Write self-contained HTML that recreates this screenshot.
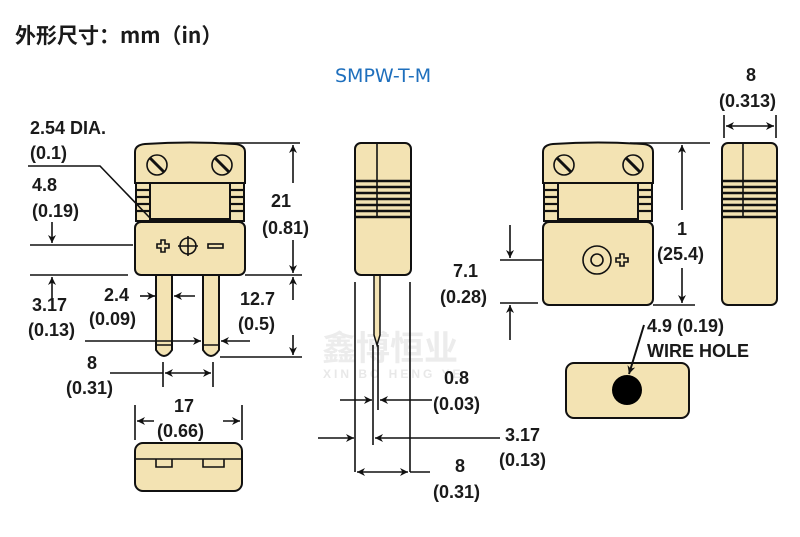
<!DOCTYPE html>
<html><head><meta charset="utf-8"><style>
html,body{margin:0;padding:0;background:#fff;}
svg{display:block;}
text{font-family:"Liberation Sans","Noto Sans CJK SC",sans-serif;font-weight:bold;font-size:18px;fill:#1a1a1a;}
</style></head><body>
<svg width="800" height="537" viewBox="0 0 800 537" xmlns="http://www.w3.org/2000/svg">
<defs>
<marker id="a" viewBox="0 0 10 10" refX="10" refY="5" markerWidth="13" markerHeight="8" orient="auto-start-reverse" markerUnits="userSpaceOnUse"><path d="M0,0 L10,5 L0,10 L3,5 z" fill="#111"/></marker>
</defs>
<text x="15" y="43" style="font-size:21px;font-weight:bold;font-family:'Noto Sans CJK SC',sans-serif">外形尺寸：mm（in）</text>
<text x="335" y="82" style="font-size:19px;font-weight:normal;fill:#1e6fbd;font-family:'DejaVu Sans',sans-serif">SMPW-T-M</text>

<!-- watermark -->
<text x="322" y="360" style="font-size:34px;fill:#ececec;font-family:'Noto Sans CJK SC',sans-serif">鑫博恒业</text>
<text x="323" y="378" style="font-size:12px;fill:#e8e8e8;letter-spacing:3px">XIN BO HENG YE</text>

<g stroke="#111" stroke-width="2" fill="#f3e3b3">
<path d="M156,275 V350 Q164,362 172,350 V275 Z"/>
<path d="M203,275 V350 Q211,362 219,350 V275 Z"/>
<line x1="157" y1="345" x2="171" y2="345" stroke-width="1.5"/>
<line x1="204" y1="345" x2="218" y2="345" stroke-width="1.5"/>
<path d="M135,183 V152 Q135,145 145,144 Q190,141 235,144 Q245,145 245,152 V183 Z"/>
<rect x="136" y="183" width="108" height="38"/>
<rect x="150" y="183" width="80" height="36"/>
<rect x="135" y="222" width="110" height="53" rx="6"/>
</g>
<g stroke="#111" stroke-width="2.2" fill="none">
<line x1="137" y1="190" x2="149" y2="190"/><line x1="137" y1="197" x2="149" y2="197"/><line x1="137" y1="204" x2="149" y2="204"/><line x1="137" y1="211" x2="149" y2="211"/>
<line x1="231" y1="190" x2="243" y2="190"/><line x1="231" y1="197" x2="243" y2="197"/><line x1="231" y1="204" x2="243" y2="204"/><line x1="231" y1="211" x2="243" y2="211"/>
</g>
<g stroke="#111" stroke-width="1.6" fill="none">
<circle cx="157" cy="165" r="10" fill="#f3e3b3"/><line x1="150" y1="158" x2="164" y2="172" stroke-width="3"/>
<circle cx="222" cy="165" r="10" fill="#f3e3b3"/><line x1="215" y1="158" x2="229" y2="172" stroke-width="3"/>
<circle cx="188" cy="246" r="8"/><line x1="178" y1="246" x2="198" y2="246"/><line x1="188" y1="236" x2="188" y2="256"/>
<path d="M157,244 h4 v-4 h4 v4 h4 v4 h-4 v4 h-4 v-4 h-4 z"/>
<rect x="208" y="244" width="15" height="4"/>
</g>

<g stroke="#111" stroke-width="1.6" fill="none">
<line x1="220" y1="143" x2="300" y2="143"/><line x1="245" y1="275" x2="302" y2="275"/><line x1="220" y1="357" x2="302" y2="357"/>
<line x1="293" y1="183" x2="293" y2="145" marker-end="url(#a)"/><line x1="293" y1="240" x2="293" y2="273" marker-end="url(#a)"/>
<line x1="293" y1="300" x2="293" y2="277" marker-end="url(#a)"/><line x1="293" y1="335" x2="293" y2="355" marker-end="url(#a)"/>
<line x1="30" y1="245" x2="133" y2="245"/><line x1="30" y1="275" x2="128" y2="275"/>
<line x1="52" y1="222" x2="52" y2="243" marker-end="url(#a)"/><line x1="52" y1="298" x2="52" y2="277" marker-end="url(#a)"/>
<polyline points="28,166 100,166 150,218"/>
<line x1="140" y1="296" x2="155" y2="296" marker-end="url(#a)"/><line x1="195" y1="296" x2="174" y2="296" marker-end="url(#a)"/>
<line x1="85" y1="341" x2="201" y2="341" marker-end="url(#a)"/><line x1="250" y1="341" x2="221" y2="341" marker-end="url(#a)"/>
<line x1="163" y1="362" x2="163" y2="387"/><line x1="213" y1="362" x2="213" y2="387"/>
<line x1="110" y1="373" x2="163" y2="373"/><line x1="165" y1="373" x2="211" y2="373" marker-start="url(#a)" marker-end="url(#a)"/>
<line x1="135" y1="405" x2="135" y2="440"/><line x1="242" y1="405" x2="242" y2="440"/>
<line x1="154" y1="421" x2="137" y2="421" marker-end="url(#a)"/><line x1="223" y1="421" x2="240" y2="421" marker-end="url(#a)"/>
</g>
<text x="30" y="134">2.54 DIA.</text><text x="30" y="159">(0.1)</text>
<text x="32" y="191">4.8</text><text x="32" y="217">(0.19)</text>
<text x="271" y="207">21</text><text x="262" y="234">(0.81)</text>
<text x="104" y="301">2.4</text><text x="89" y="325">(0.09)</text>
<text x="32" y="311">3.17</text><text x="28" y="336">(0.13)</text>
<text x="240" y="305">12.7</text><text x="238" y="330">(0.5)</text>
<text x="87" y="369">8</text><text x="66" y="394">(0.31)</text>
<text x="174" y="412">17</text><text x="157" y="437">(0.66)</text>

<g stroke="#111" stroke-width="2" fill="#f3e3b3">
<rect x="135" y="443" width="107" height="48" rx="8"/>
</g>
<g stroke="#111" stroke-width="1.6" fill="none">
<line x1="136" y1="459" x2="241" y2="459"/>
<polyline points="156,459 156,467 172,467 172,459"/><polyline points="203,459 203,467 224,467 224,459"/>
</g>

<g stroke="#111" stroke-width="2" fill="#f3e3b3">
<path d="M374,275 V335 L377,345 L380,335 V275 Z" stroke-width="1.5"/>
<rect x="355" y="143" width="56" height="132" rx="6"/>
<rect x="722" y="143" width="55" height="162" rx="6"/>
</g>
<g stroke="#111" stroke-width="1.6" fill="none">
<line x1="377" y1="143" x2="377" y2="218"/>
<line x1="743" y1="143" x2="743" y2="218"/>
</g>
<g stroke="#111" stroke-width="2.4" fill="none">
<line x1="355" y1="181" x2="411" y2="181"/><line x1="355" y1="187" x2="411" y2="187"/><line x1="355" y1="193" x2="411" y2="193"/><line x1="355" y1="199" x2="411" y2="199"/><line x1="355" y1="205" x2="411" y2="205"/><line x1="355" y1="211" x2="411" y2="211"/><line x1="355" y1="217" x2="411" y2="217"/>
<line x1="722" y1="181" x2="777" y2="181"/><line x1="722" y1="187" x2="777" y2="187"/><line x1="722" y1="193" x2="777" y2="193"/><line x1="722" y1="199" x2="777" y2="199"/><line x1="722" y1="205" x2="777" y2="205"/><line x1="722" y1="211" x2="777" y2="211"/><line x1="722" y1="217" x2="777" y2="217"/>
</g>
<g stroke="#111" stroke-width="1.6" fill="none">
<line x1="355" y1="282" x2="355" y2="472"/><line x1="410" y1="282" x2="410" y2="472"/>
<line x1="373" y1="345" x2="373" y2="445"/><line x1="378" y1="345" x2="378" y2="410"/>
<line x1="340" y1="400" x2="372" y2="400" marker-end="url(#a)"/><line x1="432" y1="400" x2="380" y2="400" marker-end="url(#a)"/>
<line x1="318" y1="438" x2="354" y2="438" marker-end="url(#a)"/><line x1="500" y1="438" x2="375" y2="438" marker-end="url(#a)"/>
<line x1="357" y1="472" x2="408" y2="472" marker-start="url(#a)" marker-end="url(#a)"/><line x1="410" y1="472" x2="430" y2="472"/>
</g>
<text x="444" y="384">0.8</text><text x="433" y="410">(0.03)</text>
<text x="505" y="441">3.17</text><text x="499" y="466">(0.13)</text>
<text x="455" y="472">8</text><text x="433" y="498">(0.31)</text>

<g stroke="#111" stroke-width="2" fill="#f3e3b3">
<path d="M543,183 V152 Q543,145 553,144 Q598,141 643,144 Q653,145 653,152 V183 Z"/>
<rect x="544" y="183" width="108" height="38"/>
<rect x="558" y="183" width="80" height="36"/>
<rect x="543" y="222" width="110" height="83" rx="6"/>
</g>
<g stroke="#111" stroke-width="2.2" fill="none">
<line x1="545" y1="190" x2="557" y2="190"/><line x1="545" y1="197" x2="557" y2="197"/><line x1="545" y1="204" x2="557" y2="204"/><line x1="545" y1="211" x2="557" y2="211"/>
<line x1="639" y1="190" x2="651" y2="190"/><line x1="639" y1="197" x2="651" y2="197"/><line x1="639" y1="204" x2="651" y2="204"/><line x1="639" y1="211" x2="651" y2="211"/>
</g>
<rect x="566" y="363" width="123" height="55" rx="8" fill="#f3e3b3" stroke="#111" stroke-width="2"/>
<circle cx="627" cy="390" r="15" fill="#000"/>
<g stroke="#111" stroke-width="1.6" fill="none">
<circle cx="564" cy="165" r="10" fill="#f3e3b3"/><line x1="557" y1="158" x2="571" y2="172" stroke-width="3"/>
<circle cx="633" cy="165" r="10" fill="#f3e3b3"/><line x1="626" y1="158" x2="640" y2="172" stroke-width="3"/>
<circle cx="597" cy="260" r="14"/><circle cx="597" cy="260" r="6"/>
<path d="M616,258 h4 v-4 h4 v4 h4 v4 h-4 v4 h-4 v-4 h-4 z"/>
<line x1="630" y1="143" x2="710" y2="143"/><line x1="653" y1="305" x2="695" y2="305"/>
<line x1="682" y1="210" x2="682" y2="145" marker-end="url(#a)"/><line x1="682" y1="268" x2="682" y2="303" marker-end="url(#a)"/>
<line x1="500" y1="260" x2="542" y2="260"/><line x1="500" y1="303" x2="538" y2="303"/>
<line x1="510" y1="225" x2="510" y2="258" marker-end="url(#a)"/><line x1="510" y1="340" x2="510" y2="305" marker-end="url(#a)"/>
<line x1="724" y1="115" x2="724" y2="138"/><line x1="776" y1="115" x2="776" y2="138"/>
<line x1="726" y1="126" x2="774" y2="126" marker-start="url(#a)" marker-end="url(#a)"/>
<line x1="644" y1="325" x2="629" y2="374" marker-end="url(#a)" stroke-width="2"/>
</g>
<text x="677" y="235">1</text><text x="657" y="260">(25.4)</text>
<text x="453" y="277">7.1</text><text x="440" y="303">(0.28)</text>
<text x="746" y="81">8</text><text x="719" y="107">(0.313)</text>
<text x="647" y="332">4.9 (0.19)</text><text x="647" y="357">WIRE HOLE</text>
</svg>
</body></html>
